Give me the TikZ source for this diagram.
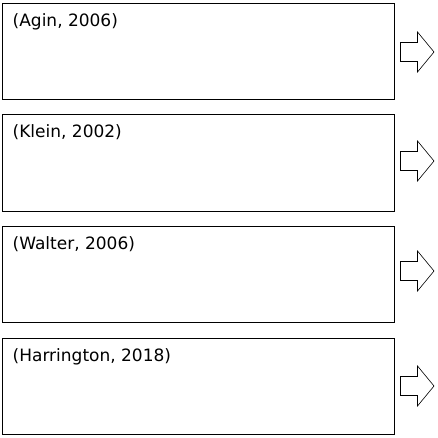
\documentclass[tikz,border=0pt]{standalone}
\usepackage{fontspec}
\setmainfont{DejaVu Sans}
\usetikzlibrary{positioning}

\begin{document}
\begin{tikzpicture}[x=1pt, y=-1pt, every node/.style={font=\fontsize{17}{20}\selectfont},
  refbox/.style={draw, line width=1pt, minimum width=392pt, minimum height=96.5pt, inner sep=0pt, outer sep=0pt},
  cite/.style={anchor=base west, inner sep=0pt},
  blockarrow/.style={draw, line width=0.6pt, fill=white}]
  \useasboundingbox (0,0) rectangle (438,438);
  % Boxes
  \node[refbox] (agin) at (198.5,51.5) {};
  \node[refbox] (klein) at (198.5,163) {};
  \node[refbox] (walter) at (198.5,274.5) {};
  \node[refbox] (harrington) at (198.5,386.3) {};
  % Citations
  \node[cite] (agintxt) at ([xshift=10pt, yshift=-23pt]agin.north west) {(Agin, 2006)};
  \node[cite] (kleintxt) at ([xshift=10pt, yshift=-23pt]klein.north west) {(Klein, 2002)};
  \node[cite] (waltertxt) at ([xshift=10pt, yshift=-23pt]walter.north west) {(Walter, 2006)};
  \node[cite] (harringtontxt) at ([xshift=10pt, yshift=-23pt]harrington.north west) {(Harrington, 2018)};
  % Block arrows
  \coordinate (aginarr) at (400.5,52);
  \coordinate (kleinarr) at (400.5,161);
  \coordinate (walterarr) at (400.5,271);
  \coordinate (harringtonarr) at (400.5,386);
  \draw[blockarrow] (aginarr) ++(0,-9.5) -- ++(17,0) -- ++(0,-10.5) -- ++(16.5,20) -- ++(-16.5,20) -- ++(0,-10.5) -- ++(-17,0) -- cycle;
  \draw[blockarrow] (kleinarr) ++(0,-9.5) -- ++(17,0) -- ++(0,-10.5) -- ++(16.5,20) -- ++(-16.5,20) -- ++(0,-10.5) -- ++(-17,0) -- cycle;
  \draw[blockarrow] (walterarr) ++(0,-9.5) -- ++(17,0) -- ++(0,-10.5) -- ++(16.5,20) -- ++(-16.5,20) -- ++(0,-10.5) -- ++(-17,0) -- cycle;
  \draw[blockarrow] (harringtonarr) ++(0,-9.5) -- ++(17,0) -- ++(0,-10.5) -- ++(16.5,20) -- ++(-16.5,20) -- ++(0,-10.5) -- ++(-17,0) -- cycle;
\end{tikzpicture}
\end{document}
